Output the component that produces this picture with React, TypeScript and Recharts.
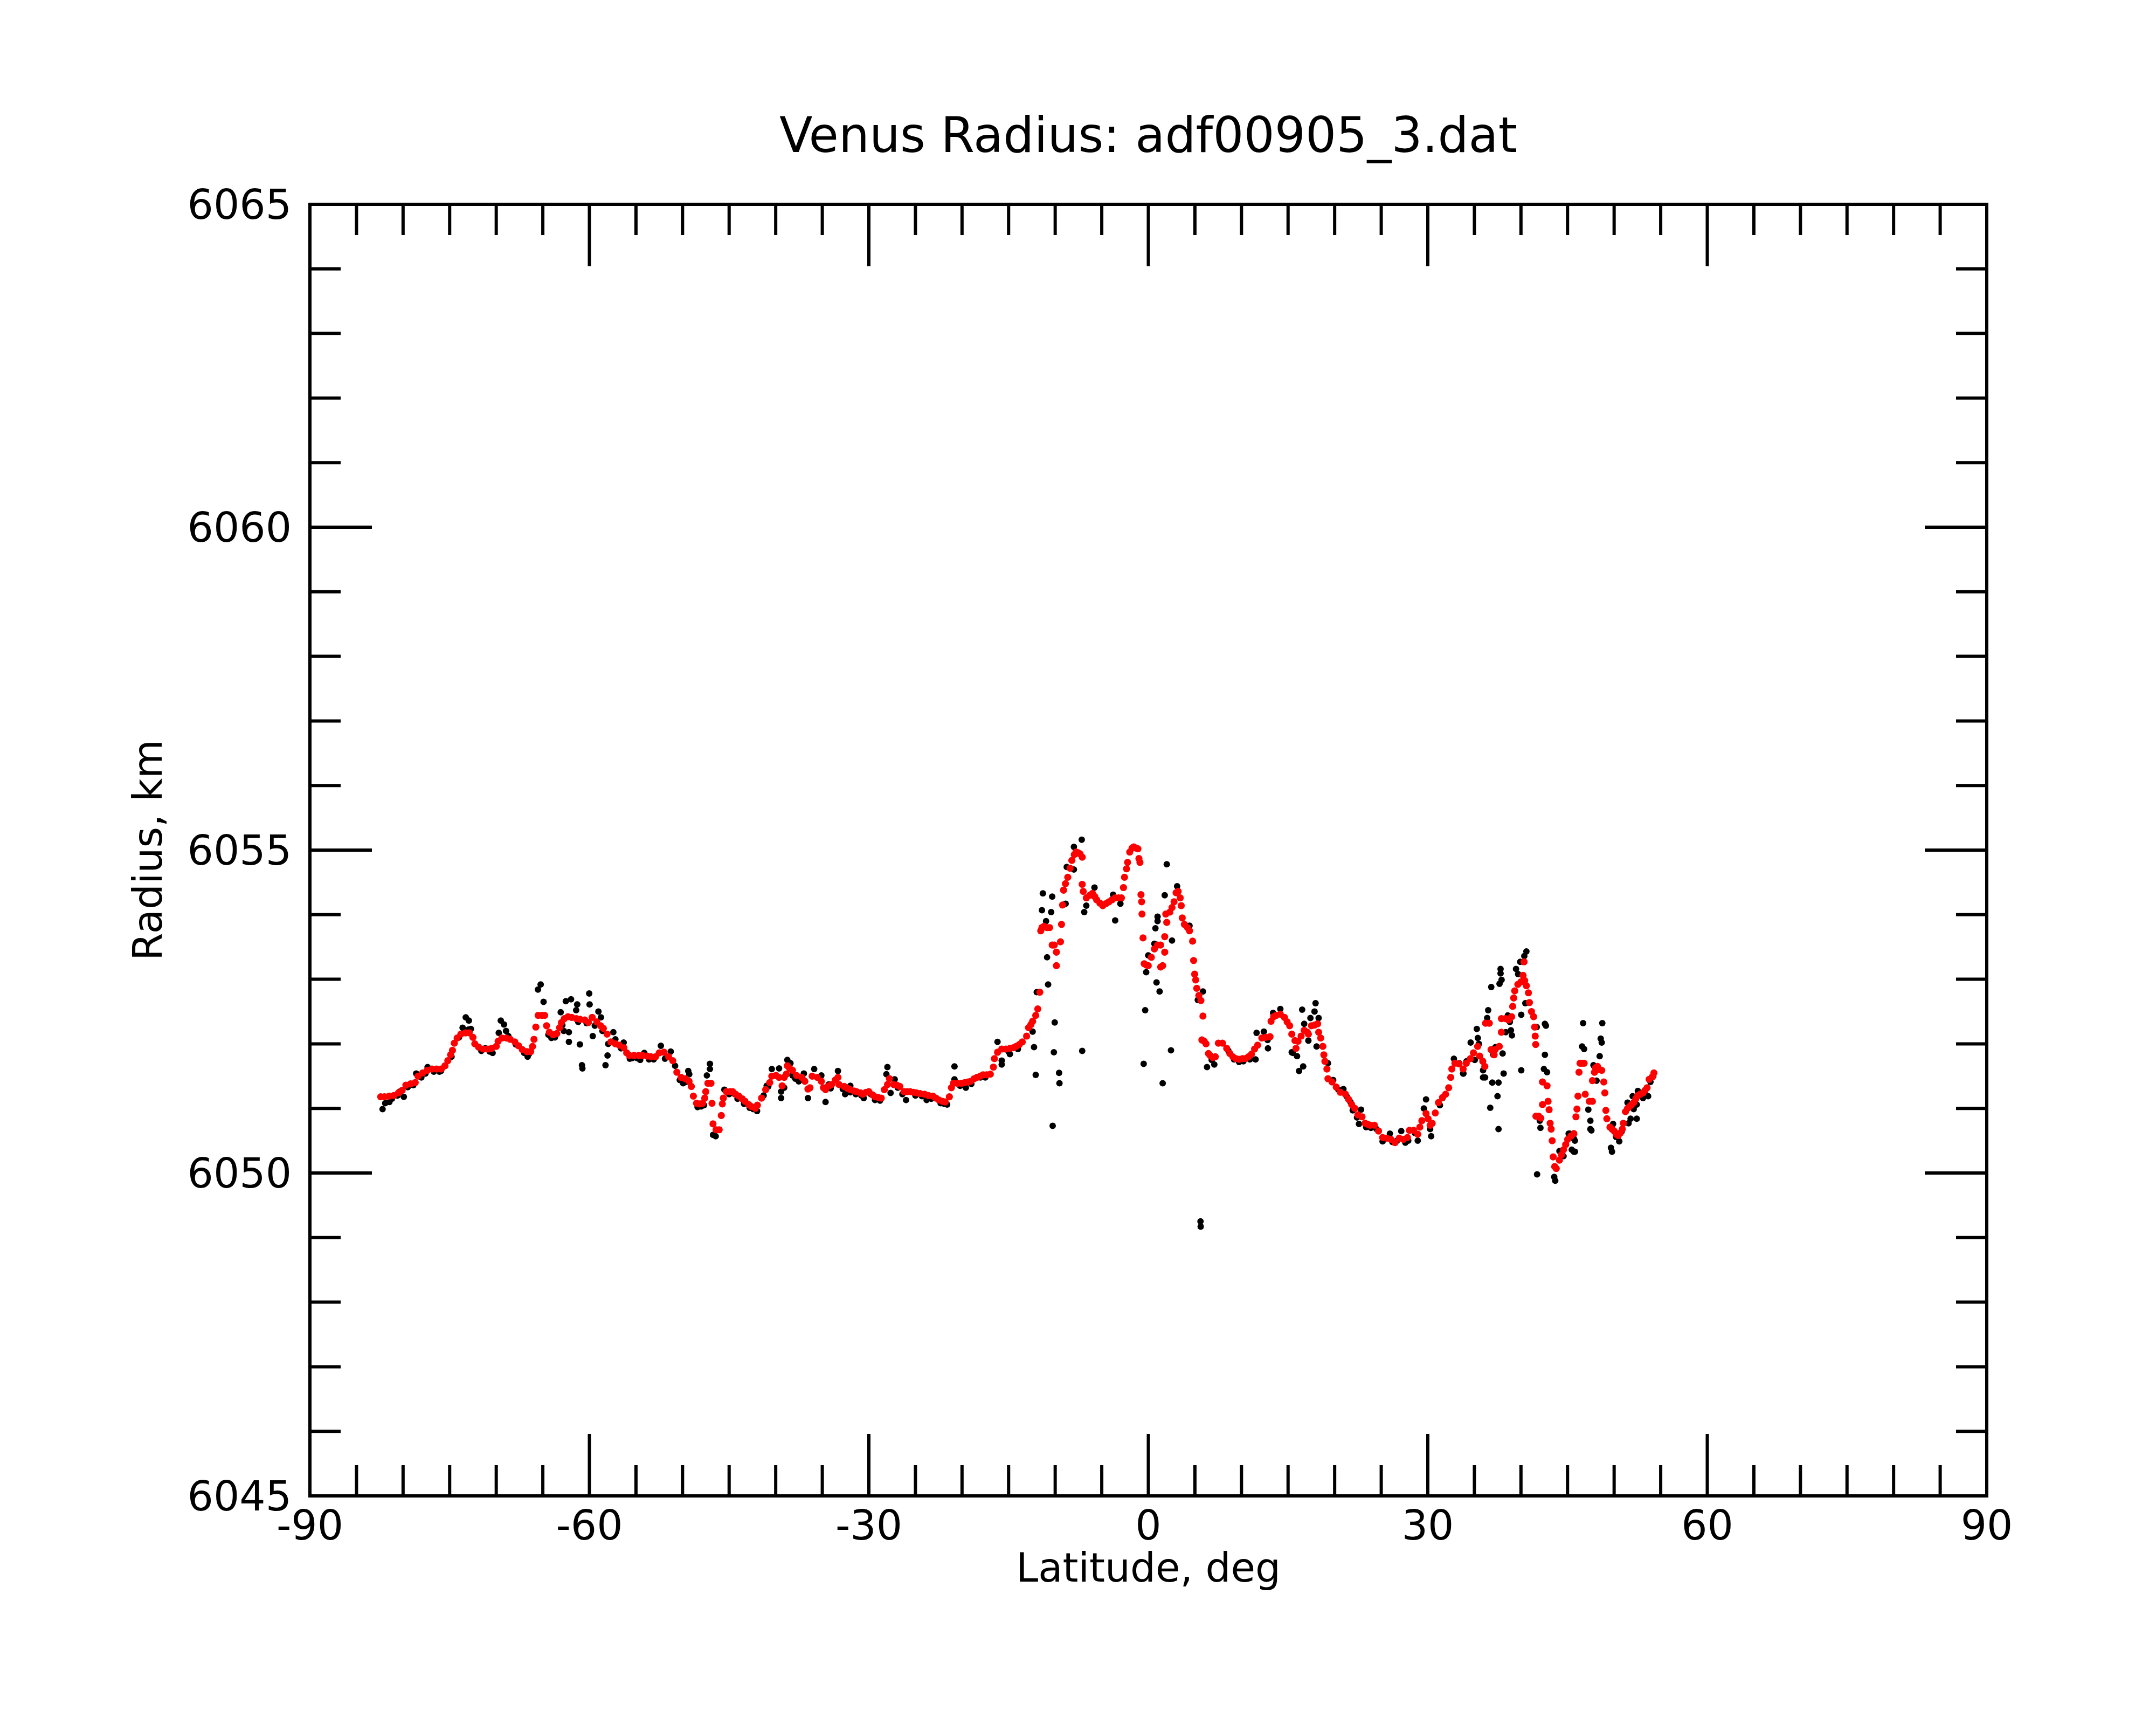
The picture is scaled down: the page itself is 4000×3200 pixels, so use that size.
import React from 'react';
import { ScatterChart, Scatter, XAxis, YAxis } from 'recharts';

const title = 'Venus Radius: adf00905_3.dat';
const xLabel = 'Latitude, deg';
const yLabel = 'Radius, km';

const xMajorTicks = [-90, -60, -30, 0, 30, 60, 90];
const xMinorTicks = [-85, -80, -75, -70, -65, -55, -50, -45, -40, -35, -25, -20, -15, -10, -5, 5, 10, 15, 20, 25, 35, 40, 45, 50, 55, 65, 70, 75, 80, 85];
const yMajorTicks = [6045, 6050, 6055, 6060, 6065];
const yMinorTicks = [6046, 6047, 6048, 6049, 6051, 6052, 6053, 6054, 6056, 6057, 6058, 6059, 6061, 6062, 6063, 6064];

// smoothed radius profile (red) : [latitude, radius]
const smoothed: [number, number][] = [
  [-82.4, 6051.18], [-82.0, 6051.18], [-81.5, 6051.19], [-81.0, 6051.2], [-80.5, 6051.24], [-80.1, 6051.28],
  [-79.7, 6051.36], [-79.2, 6051.38], [-78.7, 6051.4], [-78.4, 6051.5], [-77.9, 6051.55], [-77.4, 6051.59],
  [-76.9, 6051.61], [-76.4, 6051.61], [-75.9, 6051.61], [-75.5, 6051.66], [-75.2, 6051.74], [-74.9, 6051.83],
  [-74.7, 6051.9], [-74.5, 6052.01], [-74.2, 6052.09], [-73.8, 6052.15], [-73.3, 6052.17], [-72.9, 6052.17],
  [-72.5, 6052.1], [-72.3, 6052.0], [-71.9, 6051.95], [-71.4, 6051.92], [-70.9, 6051.92], [-70.5, 6051.93],
  [-70.0, 6051.96], [-69.8, 6052.04], [-69.4, 6052.09], [-68.9, 6052.09], [-68.5, 6052.07], [-68.0, 6052.03],
  [-67.6, 6051.97], [-67.2, 6051.91], [-66.7, 6051.88], [-66.3, 6051.88], [-66.1, 6051.96], [-65.95, 6052.07],
  [-65.75, 6052.26], [-65.5, 6052.44], [-65.1, 6052.44], [-64.8, 6052.44], [-64.6, 6052.28], [-64.3, 6052.18],
  [-63.9, 6052.14], [-63.5, 6052.16], [-63.2, 6052.25], [-63.0, 6052.33], [-62.7, 6052.39], [-62.3, 6052.42],
  [-61.9, 6052.41], [-61.4, 6052.39], [-61.0, 6052.38], [-60.5, 6052.37], [-60.1, 6052.33], [-59.7, 6052.41],
  [-59.2, 6052.34], [-58.8, 6052.28], [-58.5, 6052.24], [-58.1, 6052.15], [-57.7, 6052.03], [-57.2, 6052.0],
  [-56.8, 6051.98], [-56.3, 6051.94], [-56.0, 6051.86], [-55.7, 6051.82], [-55.2, 6051.82], [-54.7, 6051.82],
  [-54.3, 6051.82], [-53.8, 6051.81], [-53.4, 6051.8], [-52.9, 6051.8], [-52.5, 6051.86], [-52.0, 6051.87],
  [-51.5, 6051.8], [-51.05, 6051.74], [-50.61, 6051.56], [-50.16, 6051.48], [-49.7, 6051.46], [-49.3, 6051.42],
  [-49.06, 6051.34], [-48.84, 6051.19], [-48.5, 6051.08], [-48.17, 6051.07], [-47.84, 6051.08], [-47.62, 6051.16],
  [-47.51, 6051.26], [-47.28, 6051.39], [-46.95, 6051.39], [-46.84, 6051.08], [-46.73, 6050.76], [-46.4, 6050.67],
  [-46.07, 6050.67], [-45.84, 6050.89], [-45.73, 6051.07], [-45.62, 6051.16], [-45.29, 6051.26], [-44.9, 6051.26],
  [-44.62, 6051.26], [-44.3, 6051.22], [-43.96, 6051.19], [-43.6, 6051.15], [-43.29, 6051.11], [-42.9, 6051.06],
  [-42.63, 6051.03], [-42.19, 6051.0], [-41.97, 6051.05], [-41.52, 6051.16], [-41.08, 6051.29], [-40.64, 6051.4],
  [-40.42, 6051.5], [-39.97, 6051.51], [-39.64, 6051.48], [-39.31, 6051.35], [-39.09, 6051.48], [-38.86, 6051.53],
  [-38.75, 6051.66], [-38.5, 6051.62], [-38.2, 6051.59], [-37.76, 6051.51], [-37.2, 6051.48], [-36.87, 6051.42],
  [-36.54, 6051.3], [-36.32, 6051.32], [-36.09, 6051.5], [-35.54, 6051.48], [-35.1, 6051.42], [-34.88, 6051.32],
  [-34.65, 6051.29], [-34.3, 6051.35], [-33.99, 6051.37], [-33.6, 6051.44], [-33.32, 6051.48], [-33.21, 6051.37],
  [-32.66, 6051.34], [-32.3, 6051.31], [-31.99, 6051.29], [-31.6, 6051.27], [-31.33, 6051.26], [-30.9, 6051.24],
  [-30.66, 6051.22], [-30.3, 6051.25], [-30.0, 6051.26], [-29.6, 6051.21], [-29.34, 6051.18], [-29.0, 6051.17],
  [-28.67, 6051.16], [-28.34, 6051.29], [-28.0, 6051.37], [-27.79, 6051.46], [-27.34, 6051.37], [-27.0, 6051.36],
  [-26.68, 6051.34], [-26.23, 6051.26], [-25.9, 6051.26], [-25.57, 6051.26], [-25.2, 6051.25], [-24.9, 6051.24],
  [-24.5, 6051.23], [-24.02, 6051.22], [-23.6, 6051.2], [-23.13, 6051.19], [-22.8, 6051.16], [-22.47, 6051.13],
  [-22.1, 6051.11], [-21.8, 6051.1], [-21.36, 6051.18], [-21.14, 6051.32], [-20.92, 6051.39], [-20.5, 6051.39],
  [-20.03, 6051.39], [-19.7, 6051.4], [-19.36, 6051.41], [-19.07, 6051.42], [-18.7, 6051.46], [-18.4, 6051.48],
  [-18.05, 6051.5], [-17.74, 6051.52], [-17.35, 6051.52], [-16.96, 6051.53], [-16.63, 6051.64], [-16.52, 6051.77],
  [-16.19, 6051.87], [-15.74, 6051.92], [-15.3, 6051.92], [-14.86, 6051.93], [-14.5, 6051.94], [-14.19, 6051.96],
  [-13.85, 6051.99], [-13.53, 6052.03], [-13.07, 6052.12], [-12.86, 6052.25], [-12.6, 6052.3], [-12.42, 6052.35],
  [-12.09, 6052.44], [-11.87, 6052.54], [-11.65, 6052.8], [-11.55, 6053.75], [-11.42, 6053.8], [-11.2, 6053.82],
  [-10.87, 6053.8], [-10.6, 6053.8], [-10.32, 6053.53], [-10.1, 6053.53], [-9.87, 6053.42], [-9.87, 6053.21],
  [-9.32, 6053.85], [-9.43, 6053.58], [-9.21, 6054.15], [-9.1, 6054.38], [-8.9, 6054.48], [-8.65, 6054.58],
  [-8.4, 6054.72], [-8.21, 6054.84], [-7.95, 6054.93], [-7.77, 6054.97], [-7.55, 6054.96], [-7.33, 6054.94],
  [-7.1, 6054.89], [-7.1, 6054.47], [-6.99, 6054.36], [-6.66, 6054.26], [-6.3, 6054.3], [-6.0, 6054.33],
  [-5.75, 6054.28], [-5.55, 6054.23], [-5.2, 6054.18], [-4.89, 6054.14], [-4.55, 6054.17], [-4.22, 6054.2],
  [-3.9, 6054.23], [-3.56, 6054.26], [-3.2, 6054.26], [-2.89, 6054.26], [-2.67, 6054.42], [-2.56, 6054.58],
  [-2.34, 6054.71], [-2.23, 6054.81], [-2.0, 6054.97], [-1.75, 6055.03], [-1.56, 6055.05], [-1.3, 6055.03],
  [-1.12, 6055.02], [-1.01, 6054.87], [-0.9, 6054.81], [-0.79, 6054.31], [-0.72, 6054.2], [-0.68, 6054.01],
  [-0.57, 6053.64], [-0.45, 6053.24], [-0.2, 6053.22], [-0.01, 6053.21], [0.32, 6053.34], [0.65, 6053.47],
  [0.99, 6053.53], [1.32, 6053.53], [1.76, 6053.66], [1.76, 6053.42], [1.32, 6053.19], [1.54, 6053.21],
  [1.98, 6053.88], [1.87, 6054.01], [2.31, 6054.04], [2.54, 6054.11], [2.76, 6054.2], [2.98, 6054.34],
  [3.2, 6054.36], [3.42, 6054.26], [3.53, 6054.14], [3.64, 6053.95], [3.87, 6053.85], [4.2, 6053.8],
  [4.42, 6053.75], [4.75, 6053.59], [4.86, 6053.29], [4.97, 6053.08], [5.08, 6052.99], [5.2, 6052.86],
  [5.42, 6052.75], [5.64, 6052.67], [5.86, 6052.43], [5.75, 6052.06], [6.0, 6052.04], [6.19, 6052.0],
  [6.45, 6051.85], [6.64, 6051.82], [6.9, 6051.79], [7.19, 6051.8], [7.52, 6052.01], [7.96, 6052.01],
  [8.41, 6051.93], [8.75, 6051.85], [9.07, 6051.8], [9.4, 6051.77], [9.74, 6051.76], [10.1, 6051.77],
  [10.4, 6051.77], [10.75, 6051.8], [11.07, 6051.84], [11.4, 6051.92], [11.73, 6051.98], [12.18, 6052.09],
  [12.6, 6052.1], [13.06, 6052.11], [13.17, 6052.35], [13.45, 6052.42], [13.73, 6052.44], [14.17, 6052.46],
  [14.61, 6052.41], [14.9, 6052.34], [15.17, 6052.28], [15.4, 6052.15], [15.74, 6052.05], [16.07, 6052.04],
  [15.85, 6051.93], [16.4, 6052.12], [16.73, 6052.21], [17.07, 6052.18], [17.18, 6052.15], [17.51, 6052.28],
  [17.84, 6052.29], [18.17, 6052.31], [18.28, 6052.18], [18.5, 6052.09], [18.73, 6051.96], [18.84, 6051.83],
  [18.95, 6051.73], [19.17, 6051.61], [19.28, 6051.46], [19.72, 6051.41], [20.17, 6051.33], [20.61, 6051.25],
  [21.16, 6051.22], [21.5, 6051.14], [21.83, 6051.06], [22.16, 6051.0], [22.49, 6050.9], [22.94, 6050.87],
  [23.27, 6050.77], [23.6, 6050.75], [23.82, 6050.74], [24.27, 6050.74], [24.71, 6050.65], [25.15, 6050.55],
  [25.6, 6050.54], [26.04, 6050.52], [26.48, 6050.47], [26.93, 6050.54], [27.37, 6050.52], [27.81, 6050.55],
  [28.03, 6050.66], [28.48, 6050.66], [28.92, 6050.6], [29.14, 6050.71], [29.36, 6050.81], [29.81, 6050.92],
  [30.03, 6050.84], [30.25, 6050.74], [30.47, 6050.77], [30.8, 6050.93], [31.14, 6051.09], [31.58, 6051.17],
  [31.91, 6051.22], [32.24, 6051.32], [32.46, 6051.48], [32.58, 6051.61], [32.91, 6051.7], [33.35, 6051.69],
  [33.79, 6051.61], [34.13, 6051.7], [34.57, 6051.77], [34.9, 6051.86], [35.35, 6051.96], [35.57, 6051.81],
  [35.9, 6051.73], [36.12, 6051.65], [36.2, 6052.32], [36.6, 6052.32], [36.79, 6051.91], [37.12, 6051.83],
  [37.23, 6051.91], [37.67, 6051.96], [37.89, 6052.18], [37.9, 6052.39], [38.34, 6052.39], [38.67, 6052.37],
  [39.0, 6052.42], [39.11, 6052.58], [39.22, 6052.71], [39.33, 6052.82], [39.67, 6052.92], [40.0, 6052.96],
  [40.22, 6053.06], [40.33, 6053.27], [40.4, 6052.98], [40.58, 6052.9], [40.8, 6052.79], [40.91, 6052.64],
  [41.13, 6052.5], [41.36, 6052.42], [41.47, 6052.26], [41.53, 6052.12], [41.58, 6051.99], [41.6, 6050.88],
  [41.9, 6050.88], [42.13, 6050.85], [42.31, 6051.06], [42.31, 6051.41], [42.8, 6051.35], [42.91, 6051.11],
  [43.02, 6050.98], [43.13, 6050.77], [43.24, 6050.68], [43.35, 6050.5], [43.46, 6050.25], [43.62, 6050.1],
  [43.79, 6050.07], [44.13, 6050.2], [44.35, 6050.28], [44.57, 6050.36], [44.8, 6050.44], [45.01, 6050.52],
  [45.35, 6050.57], [45.68, 6050.61], [45.9, 6050.87], [46.01, 6050.99], [46.12, 6051.19], [46.23, 6051.56],
  [46.34, 6051.7], [46.56, 6051.7], [46.78, 6051.7], [46.9, 6051.22], [47.34, 6051.11], [47.67, 6051.11],
  [47.67, 6051.43], [47.89, 6051.56], [48.0, 6051.63], [48.22, 6051.65], [48.45, 6051.6], [48.67, 6051.59],
  [48.89, 6051.41], [49.0, 6051.24], [49.11, 6050.97], [49.22, 6050.84], [49.55, 6050.71], [49.78, 6050.68],
  [50.0, 6050.65], [50.22, 6050.6], [50.44, 6050.58], [50.66, 6050.62], [50.88, 6050.68], [50.99, 6050.77],
  [51.22, 6050.95], [51.44, 6051.0], [51.66, 6051.03], [51.88, 6051.06], [52.1, 6051.09], [52.33, 6051.15],
  [52.55, 6051.2], [52.8, 6051.22], [53.1, 6051.24], [53.32, 6051.28], [53.54, 6051.32], [53.76, 6051.45],
  [54.1, 6051.49], [54.27, 6051.55],
];

// raw radius samples (black) : [latitude, radius]
const raw: [number, number][] = [
  [-82.2, 6050.99], [-81.92, 6051.08], [-81.47, 6051.1], [-80.36, 6051.26], [-79.92, 6051.18], [-78.59, 6051.54],
  [-78.04, 6051.48], [-77.37, 6051.64], [-75.93, 6051.58], [-73.27, 6052.41], [-72.94, 6052.36], [-73.61, 6052.25],
  [-72.72, 6052.23], [-71.17, 6051.93], [-70.39, 6051.86], [-69.51, 6052.36], [-69.17, 6052.3], [-68.95, 6052.2],
  [-69.73, 6052.17], [-66.63, 6051.8], [-65.23, 6052.92], [-65.52, 6052.84], [-64.92, 6052.65], [-64.08, 6052.09],
  [-63.08, 6052.49], [-62.53, 6052.66], [-61.97, 6052.69], [-61.31, 6052.61], [-61.42, 6052.52], [-60.02, 6052.78],
  [-59.98, 6052.61], [-59.03, 6052.5], [-58.76, 6052.41], [-62.75, 6052.2], [-62.2, 6052.18], [-62.2, 6052.03],
  [-61.02, 6051.99], [-60.8, 6051.67], [-60.75, 6051.62], [-59.64, 6052.12], [-59.42, 6052.28], [-58.27, 6051.67],
  [-58.05, 6051.82], [-57.98, 6052.0], [-57.43, 6052.18], [-57.21, 6052.07], [-56.32, 6052.02], [-55.66, 6051.77],
  [-54.11, 6051.86], [-54.55, 6051.75], [-52.33, 6051.97], [-51.89, 6051.77], [-51.27, 6051.88], [-49.39, 6051.58],
  [-49.28, 6051.53], [-49.94, 6051.39], [-48.39, 6051.02], [-47.06, 6051.69], [-47.06, 6051.61], [-47.39, 6051.51],
  [-46.44, 6050.57], [-46.73, 6050.59], [-45.51, 6051.29], [-44.4, 6051.22], [-42.41, 6050.99], [-40.97, 6051.35],
  [-40.42, 6051.61], [-39.64, 6051.62], [-39.42, 6051.26], [-39.42, 6051.16], [-39.09, 6051.32], [-38.75, 6051.75],
  [-38.42, 6051.7], [-38.2, 6051.51], [-37.53, 6051.42], [-36.98, 6051.54], [-36.54, 6051.16], [-35.87, 6051.61],
  [-35.1, 6051.51], [-34.65, 6051.1], [-34.32, 6051.37], [-33.32, 6051.58], [-32.55, 6051.22], [-31.99, 6051.35],
  [-30.55, 6051.16], [-29.34, 6051.13], [-28.01, 6051.64], [-28.12, 6051.53], [-27.67, 6051.24], [-27.23, 6051.45],
  [-26.01, 6051.13], [-23.8, 6051.13], [-21.91, 6051.07], [-20.81, 6051.65], [-20.81, 6051.45], [-19.59, 6051.32],
  [-18.03, 6051.48], [-15.74, 6051.68], [-16.19, 6052.03], [-14.86, 6051.84], [-12.42, 6052.19], [-15.74, 6051.74],
  [-7.15, 6055.16], [-7.99, 6055.05], [-11.32, 6054.33], [-10.32, 6054.28], [-11.42, 6054.07], [-10.43, 6054.04],
  [-10.98, 6053.9], [-10.87, 6053.34], [-10.76, 6052.92], [-11.98, 6052.8], [-10.05, 6052.33], [-12.27, 6051.95],
  [-10.14, 6051.87], [-12.09, 6051.52], [-9.58, 6051.55], [-9.54, 6051.39], [-7.1, 6051.89], [-10.27, 6050.73],
  [-8.88, 6054.17], [-8.76, 6054.74], [-7.99, 6054.7], [-6.88, 6054.04], [-5.78, 6054.42], [-6.66, 6054.14],
  [-3.56, 6053.91], [-3.0, 6054.17], [-3.78, 6054.31], [1.98, 6054.78], [3.09, 6054.44], [1.76, 6054.3],
  [0.99, 6053.97], [0.99, 6053.9], [0.76, 6053.79], [2.54, 6053.6], [0.65, 6053.55], [-0.01, 6053.37],
  [-0.23, 6053.11], [0.88, 6052.95], [1.21, 6052.81], [-0.34, 6052.52], [2.43, 6051.9], [-0.5, 6051.69],
  [1.54, 6051.39], [4.42, 6053.83], [5.86, 6052.81], [5.31, 6052.68], [6.3, 6051.64], [7.08, 6051.68],
  [9.74, 6051.72], [11.51, 6051.76], [11.62, 6052.17], [12.84, 6051.93], [12.4, 6052.19], [13.39, 6052.48],
  [14.17, 6052.54], [15.39, 6051.87], [5.6, 6049.25], [5.62, 6049.17], [16.51, 6052.53], [17.95, 6052.63],
  [17.84, 6052.5], [17.4, 6052.4], [18.28, 6052.4], [16.73, 6052.31], [17.18, 6052.05], [18.06, 6051.96],
  [15.51, 6051.86], [15.96, 6051.81], [16.18, 6051.58], [16.62, 6051.65], [19.28, 6051.7], [19.84, 6051.44],
  [20.94, 6051.3], [21.28, 6051.19], [21.94, 6050.97], [22.83, 6050.98], [22.61, 6050.76], [23.38, 6050.71],
  [25.15, 6050.49], [25.93, 6050.61], [27.15, 6050.65], [27.59, 6050.47], [28.92, 6050.5], [29.81, 6051.14],
  [29.58, 6051.0], [30.25, 6050.68], [30.36, 6050.57], [31.58, 6051.16], [32.8, 6051.77], [33.79, 6051.54],
  [40.58, 6053.43], [40.36, 6053.36], [39.92, 6053.27], [39.47, 6053.16], [39.69, 6053.08], [37.81, 6053.16],
  [37.81, 6053.09], [37.92, 6052.99], [37.7, 6052.93], [36.81, 6052.88], [40.47, 6052.63], [40.03, 6052.45],
  [36.48, 6052.52], [36.37, 6052.4], [38.59, 6052.44], [38.81, 6052.34], [38.92, 6052.21], [39.03, 6052.13],
  [38.36, 6052.18], [35.26, 6052.23], [35.37, 6052.09], [35.48, 6052.0], [34.6, 6052.02], [34.15, 6051.73],
  [33.38, 6051.7], [33.82, 6051.54], [35.04, 6051.75], [35.93, 6051.59], [36.15, 6051.48], [36.92, 6051.4],
  [37.59, 6051.4], [38.14, 6051.54], [38.03, 6051.85], [37.48, 6051.19], [36.7, 6051.01], [37.59, 6050.68],
  [37.26, 6051.95], [37.03, 6051.83], [40.03, 6051.59], [42.57, 6052.31], [42.68, 6052.28], [42.57, 6051.83],
  [42.46, 6051.61], [42.8, 6051.56], [41.69, 6052.26], [42.02, 6050.81], [42.09, 6050.7], [41.73, 6049.98],
  [43.68, 6049.88], [43.57, 6049.94], [44.13, 6050.34], [45.45, 6050.36], [45.68, 6050.33], [45.79, 6050.5],
  [45.24, 6050.61], [46.67, 6052.32], [46.56, 6051.96], [46.78, 6051.92], [48.73, 6052.32], [48.56, 6052.08],
  [48.67, 6052.02], [48.45, 6051.81], [47.78, 6051.67], [48.11, 6051.43], [47.23, 6050.98], [47.45, 6050.81],
  [47.45, 6050.68], [47.56, 6050.66], [49.66, 6050.39], [49.77, 6050.33], [49.89, 6050.76], [50.55, 6050.49],
  [51.55, 6050.77], [51.77, 6050.84], [52.43, 6050.84], [52.1, 6050.99], [52.43, 6051.06], [51.44, 6051.09],
  [51.99, 6051.19], [52.55, 6051.27], [53.1, 6051.16], [53.65, 6051.19], [45.12, 6050.61], [45.68, 6050.53],
  [45.79, 6050.33], [44.57, 6050.26], [44.35, 6050.33], [35.93, 6051.48],
  // samples lying just under / over the smoothed curve
  [-81.2, 6051.15], [-80.6, 6051.2], [-79.5, 6051.33], [-78.9, 6051.36], [-77.6, 6051.54], [-76.7, 6051.57],
  [-76.1, 6051.57], [-74.8, 6051.8], [-74.0, 6052.1], [-73.0, 6052.22], [-71.6, 6051.89], [-70.7, 6051.88],
  [-68.7, 6052.12], [-67.9, 6051.99], [-67.0, 6051.86], [-66.5, 6051.84], [-64.4, 6052.14], [-63.7, 6052.1],
  [-62.9, 6052.29], [-61.2, 6052.34], [-60.3, 6052.32], [-58.6, 6052.2], [-56.6, 6051.93], [-55.4, 6051.78],
  [-54.9, 6051.78], [-53.6, 6051.76], [-53.1, 6051.76], [-50.8, 6051.66], [-50.3, 6051.44], [-49.6, 6051.41],
  [-48.0, 6051.03], [-47.7, 6051.05], [-45.0, 6051.22], [-44.1, 6051.15], [-43.4, 6051.07], [-42.8, 6051.01],
  [-42.0, 6050.96], [-41.3, 6051.2], [-40.8, 6051.34], [-37.9, 6051.46], [-37.0, 6051.44], [-34.1, 6051.31],
  [-32.8, 6051.3], [-32.0, 6051.25], [-31.4, 6051.22], [-30.8, 6051.2], [-29.8, 6051.22], [-28.8, 6051.12],
  [-26.9, 6051.32], [-26.4, 6051.22], [-25.0, 6051.2], [-24.3, 6051.19], [-23.3, 6051.15], [-22.3, 6051.08],
  [-21.6, 6051.06], [-20.2, 6051.35], [-19.0, 6051.38], [-17.5, 6051.48], [-15.0, 6051.88], [-14.0, 6051.92],
  [6.8, 6051.75], [8.6, 6051.89], [9.2, 6051.76], [10.2, 6051.73], [10.9, 6051.76], [12.8, 6052.06],
  [20.4, 6051.29], [21.7, 6051.1], [22.4, 6050.86], [23.9, 6050.7], [24.5, 6050.68], [26.2, 6050.48],
  [26.7, 6050.5], [27.9, 6050.5], [28.6, 6050.62], [31.3, 6051.05], [50.2, 6050.56], [50.8, 6050.64],
  [53.3, 6051.24], [53.9, 6051.41], [54.2, 6051.5],
];

const smoothPts = smoothed.map(([lat, r]) => ({ lat, r }));
const rawPts = raw.map(([lat, r]) => ({ lat, r }));

const W = 4000;
const H = 3200;
const PLOT = { left: 575, right: 3686, top: 379, bottom: 2775 };
const FONT = '"DejaVu Sans", sans-serif';
const MAJOR = 115;
const MINOR = 58;
const SW = 6;

const line = { stroke: '#000', strokeWidth: SW };
const frame = { stroke: '#000', strokeWidth: SW, strokeLinecap: 'square' as const };
const tickText = { fontSize: 76, fill: '#000', fontFamily: FONT };
const noLabel = () => <g />;

const TitleLabel = () => (
  <text x={(PLOT.left + PLOT.right) / 2} y={282} textAnchor="middle" fontSize={90} fontFamily={FONT} fill="#000">
    {title}
  </text>
);

const XLabel = () => (
  <text x={(PLOT.left + PLOT.right) / 2} y={2934} textAnchor="middle" fontSize={74} fontFamily={FONT} fill="#000">
    {xLabel}
  </text>
);

const YLabel = () => {
  const x = 300;
  const y = (PLOT.top + PLOT.bottom) / 2;
  return (
    <text x={x} y={y} transform={`rotate(-90, ${x}, ${y})`} textAnchor="middle" fontSize={74} fontFamily={FONT} fill="#000">
      {yLabel}
    </text>
  );
};

const blackDot = (p: any) => <circle cx={p.cx} cy={p.cy} r={6} fill="#000" />;
const redDot = (p: any) => <circle cx={p.cx} cy={p.cy} r={6.6} fill="#ff0000" />;

const App: React.FC = () => {
  const xCommon = { type: 'number' as const, dataKey: 'lat', domain: [-90, 90], allowDataOverflow: true, interval: 0, height: 1, stroke: '#000', strokeWidth: SW };
  const yCommon = { type: 'number' as const, dataKey: 'r', domain: [6045, 6065], allowDataOverflow: true, interval: 0, width: 1, stroke: '#000', strokeWidth: SW };
  return (
    <div style={{ position: 'absolute', left: 0, top: 0, width: W, height: H, background: '#fff' }}>
      <ScatterChart
        width={W}
        height={H}
        margin={{ top: PLOT.top - 2, right: W - PLOT.right - 2, bottom: H - PLOT.bottom - 2, left: PLOT.left - 2 }}
      >
        <XAxis xAxisId="b" orientation="bottom" {...xCommon} ticks={xMajorTicks} tickSize={-MAJOR} tickMargin={142}
          tickLine={line} axisLine={frame} tick={tickText} label={<XLabel />} />
        <XAxis xAxisId="bm" orientation="bottom" {...xCommon} ticks={xMinorTicks} tickSize={-MINOR}
          tickLine={line} axisLine={false} tick={noLabel} />
        <XAxis xAxisId="t" orientation="top" {...xCommon} ticks={xMajorTicks} tickSize={-MAJOR}
          tickLine={line} axisLine={frame} tick={noLabel} label={<TitleLabel />} />
        <XAxis xAxisId="tm" orientation="top" {...xCommon} ticks={xMinorTicks} tickSize={-MINOR}
          tickLine={line} axisLine={false} tick={noLabel} />
        <YAxis yAxisId="l" orientation="left" {...yCommon} ticks={yMajorTicks} tickSize={-MAJOR} tickMargin={149}
          tickLine={line} axisLine={frame} tick={tickText} label={<YLabel />} />
        <YAxis yAxisId="lm" orientation="left" {...yCommon} ticks={yMinorTicks} tickSize={-MINOR}
          tickLine={line} axisLine={false} tick={noLabel} />
        <YAxis yAxisId="r" orientation="right" {...yCommon} ticks={yMajorTicks} tickSize={-MAJOR}
          tickLine={line} axisLine={frame} tick={noLabel} />
        <YAxis yAxisId="rm" orientation="right" {...yCommon} ticks={yMinorTicks} tickSize={-MINOR}
          tickLine={line} axisLine={false} tick={noLabel} />
        <Scatter data={rawPts} xAxisId="b" yAxisId="l" shape={blackDot} isAnimationActive={false} />
        <Scatter data={smoothPts} xAxisId="b" yAxisId="l" shape={redDot} isAnimationActive={false} />
      </ScatterChart>
    </div>
  );
};

export default App;
